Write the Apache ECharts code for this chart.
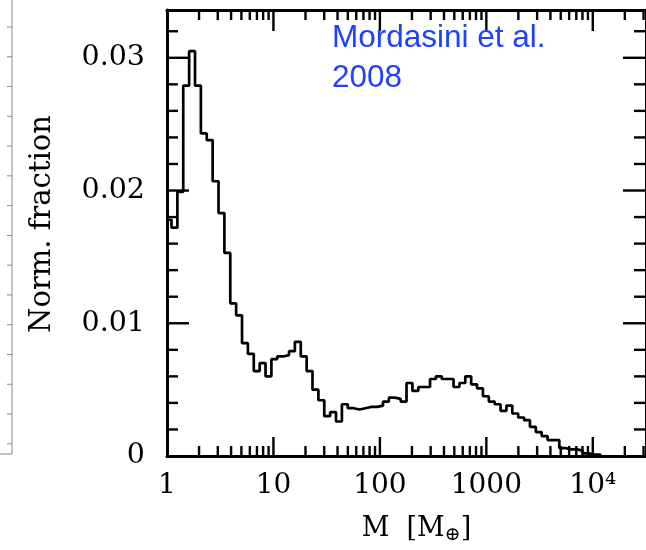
<!DOCTYPE html>
<html>
<head>
<meta charset="utf-8">
<script src="https://cdn.jsdelivr.net/npm/echarts@6/dist/echarts.min.js"></script>
<style>
html,body{margin:0;padding:0;background:#fff;}
#chart{width:646px;height:550px;}
</style>
</head>
<body>
<div id="chart"></div>
<script>
// Histogram bin left edges (Earth masses) and normalized fraction per bin
const massEdges = [1, 1.102, 1.252, 1.421, 1.614, 1.833, 2.081, 2.363, 2.684, 3.048, 3.461,
  3.930, 4.463, 5.068, 5.754, 6.534, 7.420, 8.425, 9.566, 10.86, 12.33,
  14.01, 15.90, 18.06, 20.51, 23.28, 26.44, 30.02, 34.09, 38.71, 43.96,
  49.92, 56.68, 64.37, 73.09, 82.99, 94.25, 107.0, 121.5, 138.0, 156.7,
  177.9, 202.1, 229.5, 260.6, 295.9, 336.0, 381.5, 433.3, 492.0, 558.7,
  634.4, 720.4, 818.0, 928.9, 1055, 1198, 1360, 1545, 1754, 1992,
  2262, 2568, 2916, 3311, 3760, 4270, 4848, 5506, 6252, 7099,
  8061, 9153, 10390, 11800];
const fraction = [0.0178, 0.0172, 0.0199, 0.0279, 0.0305, 0.0279, 0.0243, 0.0238, 0.0207, 0.0183, 0.0153,
  0.0115, 0.0106, 0.0085, 0.0077, 0.0064, 0.0070, 0.0060, 0.0073, 0.0075, 0.0076,
  0.0079, 0.0086, 0.0075, 0.0064, 0.0050, 0.0042, 0.0030, 0.0033, 0.0026, 0.0039,
  0.0036, 0.0035, 0.0036, 0.0037, 0.0037, 0.0038, 0.0041, 0.0044, 0.0043, 0.0041,
  0.0055, 0.0049, 0.0052, 0.0052, 0.0058, 0.0060, 0.0058, 0.0058, 0.0052, 0.0055,
  0.0060, 0.0054, 0.0051, 0.0045, 0.0041, 0.0039, 0.0034, 0.0038, 0.0032, 0.0029,
  0.0027, 0.0022, 0.0018, 0.0015, 0.0012, 0.0012, 0.0006, 0.0005, 0.0005, 0.0004,
  0.0002, 0.0001, 0.0001, 0];

const xMajorTicks = [1, 10, 100, 1000, 10000];
const xTickLabels = ['1', '10', '100', '1000', '10⁴'];
const xMinorTicks = [2,3,4,5,6,7,8,9, 20,30,40,50,60,70,80,90, 200,300,400,500,600,700,800,900,
  2000,3000,4000,5000,6000,7000,8000,9000, 20000,30000];
const yTickValues = [0, 0.01, 0.02, 0.03];
const yTickLabels = ['0', '0.01', '0.02', '0.03'];
const yMinorTicks = [0.002,0.004,0.006,0.008, 0.012,0.014,0.016,0.018, 0.022,0.024,0.026,0.028, 0.032];

const X_MIN = 1, X_MAX = 31623;
const Y_MIN = 0, Y_MAX = 0.0336;
const FONT = 'DejaVu Serif';
const black = '#000';

function xLabel(v) {
  for (let i = 0; i < xMajorTicks.length; i++) {
    if (Math.abs(v - xMajorTicks[i]) / xMajorTicks[i] < 1e-6) return xTickLabels[i];
  }
  return '';
}
function yLabel(v) {
  for (let i = 0; i < yTickValues.length; i++) {
    if (Math.abs(v - yTickValues[i]) < 1e-9) return yTickLabels[i];
  }
  return '';
}

// tick descriptors: [x, y, major?]
const xTickData = xMajorTicks.slice(1).map(m => [m, Y_MIN, 1]).concat(xMinorTicks.map(m => [m, Y_MIN, 0]));
const yTickData = yTickValues.slice(1).map(v => [X_MIN, v, 1]).concat(yMinorTicks.map(v => [X_MIN, v, 0]));

function seg(x1, y1, x2, y2) {
  return {type: 'line', shape: {x1: x1, y1: y1, x2: x2, y2: y2}, style: {stroke: black, lineWidth: 2.4}};
}

// faint edge of the neighbouring (cropped) panel
const neighbour = [{type: 'line', shape: {x1: 12, y1: 0, x2: 12, y2: 454}, style: {stroke: '#8a8a8a', lineWidth: 1}},
  {type: 'line', shape: {x1: 0, y1: 454, x2: 12, y2: 454}, style: {stroke: '#8a8a8a', lineWidth: 1}}];
for (let k = 0; k < 15; k++) {
  const y = 27 + k * 29.77;
  neighbour.push({type: 'line', shape: {x1: 7, y1: y, x2: 12, y2: y}, style: {stroke: '#8a8a8a', lineWidth: 1}});
}

const chart = echarts.init(document.getElementById('chart'), null, {renderer: 'canvas'});

const option = {
  animation: false,
  backgroundColor: '#fff',
  title: {
    text: 'Mordasini et al.\n2008',
    left: 332, top: 18, padding: 0,
    textStyle: {color: '#2040ff', fontFamily: 'Liberation Sans', fontWeight: 'normal', fontSize: 31.5, lineHeight: 40}
  },
  graphic: neighbour,
  grid: {left: 167, right: -2, top: 10, bottom: 92},
  xAxis: [
    {
      type: 'log', logBase: 10, min: X_MIN, max: X_MAX, position: 'bottom',
      axisLine: {show: true, onZero: false, lineStyle: {color: black, width: 3}},
      axisTick: {show: false},
      axisLabel: {show: true, formatter: xLabel, color: black, fontFamily: FONT, fontSize: 28, margin: 16, showMinLabel: true, showMaxLabel: false},
      splitLine: {show: false},
      name: 'M  [M{sub|⊕}]', nameLocation: 'middle', nameGap: 56,
      nameTextStyle: {color: black, fontFamily: FONT, fontSize: 27, padding: [0, 0, 0, 20],
        rich: {sub: {fontFamily: FONT, fontSize: 19, verticalAlign: 'bottom', padding: [14, 0, 0, 0]}}}
    },
    {
      type: 'log', logBase: 10, min: X_MIN, max: X_MAX, position: 'top',
      axisLine: {show: true, onZero: false, lineStyle: {color: black, width: 3}},
      axisTick: {show: false}, axisLabel: {show: false}, splitLine: {show: false}
    }
  ],
  yAxis: [
    {
      type: 'value', min: Y_MIN, max: Y_MAX, interval: 0.01, position: 'left',
      axisLine: {show: true, onZero: false, lineStyle: {color: black, width: 3}},
      axisTick: {show: false},
      axisLabel: {show: true, formatter: yLabel, color: black, fontFamily: FONT, fontSize: 28.5, margin: 22, showMaxLabel: false},
      splitLine: {show: false},
      name: 'Norm. fraction', nameLocation: 'middle', nameRotate: 90, nameGap: 110,
      nameTextStyle: {color: black, fontFamily: FONT, fontSize: 29, padding: [0, 0, 0, 18]}
    },
    {
      type: 'value', min: Y_MIN, max: Y_MAX, interval: 0.01, position: 'right',
      axisLine: {show: true, onZero: false, lineStyle: {color: black, width: 3}},
      axisTick: {show: false}, axisLabel: {show: false}, splitLine: {show: false}
    }
  ],
  series: [
    {
      type: 'line', xAxisIndex: 0, yAxisIndex: 0, step: 'end', symbol: 'none',
      lineStyle: {color: black, width: 2.7},
      data: massEdges.map((m, i) => [m, fraction[i]]),
      z: 3
    },
    {
      type: 'custom', xAxisIndex: 0, yAxisIndex: 0, z: 4, clip: false,
      data: xTickData,
      renderItem: function (params, api) {
        const m = api.value(0), major = api.value(2);
        const b = api.coord([m, Y_MIN]);
        const t = api.coord([m, Y_MAX]);
        return {type: 'group', children: [
          seg(b[0], b[1], b[0], b[1] - (major ? 19 : 10)),
          seg(t[0], t[1], t[0], t[1] + (major ? 21 : 10))
        ]};
      }
    },
    {
      type: 'custom', xAxisIndex: 0, yAxisIndex: 0, z: 4, clip: false,
      data: yTickData,
      renderItem: function (params, api) {
        const v = api.value(1), major = api.value(2);
        const l = api.coord([X_MIN, v]);
        const r = api.coord([X_MAX, v]);
        return {type: 'group', children: [
          seg(l[0], l[1], l[0] + (major ? 22 : 11), l[1]),
          seg(r[0], r[1], r[0] - (major ? 23 : 12), r[1])
        ]};
      }
    }
  ]
};
chart.setOption(option);
</script>
</body>
</html>
